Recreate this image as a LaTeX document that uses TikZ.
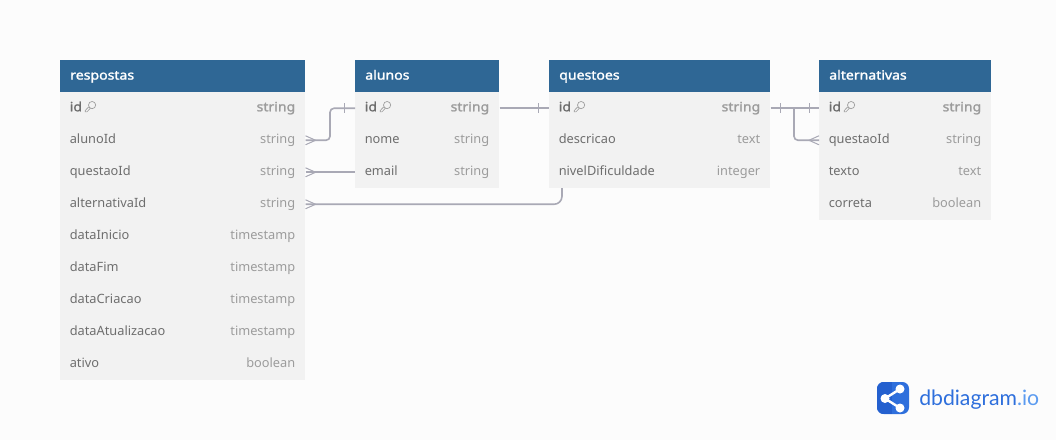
\documentclass[tikz,border=0pt]{standalone}
\usepackage{fontspec}
\setmainfont{Noto Sans}[BoldFont={Noto Sans},BoldFeatures={FakeBold=1.6,FakeStretch=1.1}]
\newfontfamily\logofont{Lato}
\usetikzlibrary{calc}
\definecolor{pagebg}{HTML}{FCFCFC}
\definecolor{headblue}{HTML}{2F6795}
\definecolor{rowgray}{HTML}{F2F2F2}
\definecolor{fieldtext}{HTML}{6E6E6E}
\definecolor{kindtext}{HTML}{9C9C9C}
\definecolor{relgray}{HTML}{A9A9B5}
\definecolor{logoblue}{HTML}{2E6FDC}
\definecolor{logodark}{HTML}{2460CF}
\definecolor{logolight}{HTML}{5B9BF0}
\tikzset{
  headbox/.style={anchor=north west,fill=headblue,text=white,font=\fontsize{9.6}{12}\selectfont\bfseries,
    inner xsep=7.5pt,inner ysep=0pt,minimum height=24pt,text height=7.5pt,text depth=2.5pt,text width=(#1-20)*0.75pt,align=left},
  rowbox/.style={anchor=north west,fill=rowgray,inner sep=0pt,minimum height=24pt,minimum width=#1*0.75pt},
  fieldname/.style={anchor=base west,text=fieldtext,inner sep=0pt,font=\fontsize{9.6}{12}\selectfont},
  kindname/.style={anchor=base east,text=kindtext,inner sep=0pt,font=\fontsize{9.6}{12}\selectfont},
  relline/.style={draw=relgray,line width=1.2pt},
  keyicon/.pic={
    \draw[draw=kindtext,line width=0.5pt] (4.6,-1.2) circle (3.6);
    \draw[draw=kindtext,line width=0.5pt] (1.2,0.6)--(-2.2,4.2)--(-2.2,5.6)--(-0.6,5.6)--(3,1.9);
  },
  crowfoot/.pic={
    \draw[draw=relgray,line width=0.75pt] (10,0)--(0,-4.5) (10,0)--(0,4.5);
  },
  onetick/.pic={
    \draw[draw=relgray,line width=0.75pt] (0,-5)--(0,5);
  },
}
\begin{document}
\begin{tikzpicture}[x=0.75pt,y=-0.75pt]
\fill[pagebg] (0,0) rectangle (1056,440);
\useasboundingbox (0,0) rectangle (1056,440);
%%%%% respostas %%%%%
\node[headbox=245] (respostas) at (60,60) {respostas};
\foreach \field/\kind [count=\r from 1] in {id/string,alunoId/string,questaoId/string,alternativaId/string,dataInicio/timestamp,dataFim/timestamp,dataCriacao/timestamp,dataAtualizacao/timestamp,ativo/boolean}{
\node[rowbox=245] (respostas-\field) at (60,{60+32*\r}) {};
\node[fieldname] (respostas-\field-name) at ($(respostas-\field.west)+(9.5,3)$) {\ifnum\r=1 \bfseries\fi\field};
\node[kindname] (respostas-\field-kind) at ($(respostas-\field.east)+(-10,3)$) {\ifnum\r=1 \bfseries\fi\kind};
}
%%%%% alunos %%%%%
\node[headbox=144] (alunos) at (355,60) {alunos};
\foreach \field/\kind [count=\r from 1] in {id/string,nome/string,email/string}{
\node[rowbox=144] (alunos-\field) at (355,{60+32*\r}) {};
\node[fieldname] (alunos-\field-name) at ($(alunos-\field.west)+(9.5,3)$) {\ifnum\r=1 \bfseries\fi\field};
\node[kindname] (alunos-\field-kind) at ($(alunos-\field.east)+(-10,3)$) {\ifnum\r=1 \bfseries\fi\kind};
}
%%%%% questoes %%%%%
\node[headbox=221] (questoes) at (549,60) {questoes};
\foreach \field/\kind [count=\r from 1] in {id/string,descricao/text,nivelDificuldade/integer}{
\node[rowbox=221] (questoes-\field) at (549,{60+32*\r}) {};
\node[fieldname] (questoes-\field-name) at ($(questoes-\field.west)+(9.5,3)$) {\ifnum\r=1 \bfseries\fi\field};
\node[kindname] (questoes-\field-kind) at ($(questoes-\field.east)+(-10,3)$) {\ifnum\r=1 \bfseries\fi\kind};
}
%%%%% alternativas %%%%%
\node[headbox=172] (alternativas) at (819,60) {alternativas};
\foreach \field/\kind [count=\r from 1] in {id/string,questaoId/string,texto/text,correta/boolean}{
\node[rowbox=172] (alternativas-\field) at (819,{60+32*\r}) {};
\node[fieldname] (alternativas-\field-name) at ($(alternativas-\field.west)+(9.5,3)$) {\ifnum\r=1 \bfseries\fi\field};
\node[kindname] (alternativas-\field-kind) at ($(alternativas-\field.east)+(-10,3)$) {\ifnum\r=1 \bfseries\fi\kind};
}
%%%%% Keys %%%%%
\foreach \tbl in {respostas,alunos,questoes,alternativas}{
\pic at ($(\tbl-id-name.base west)+(18,-5)$) {keyicon};
}
%%%%% Relations %%%%%
\coordinate (alunoBend) at (330,124);
\coordinate (dificuldadeFoot) at (562,188);
\coordinate (alternativaBend) at (794,124);
\draw[relline,rounded corners=3pt] (respostas-alunoId.east) -| (alunoBend) |- (alunos-id.west);
\draw[relline] (respostas-questaoId.east) -- (alunos-email.west);
\draw[relline,rounded corners=6pt] (respostas-alternativaId.east) -| (dificuldadeFoot);
\draw[relline] (alunos-id.east) -- (questoes-id.west);
\draw[relline] (questoes-id.east) -- (alternativas-id.west);
\draw[relline,rounded corners=3pt] (alternativas-id.west -| alternativaBend) |- (alternativas-questaoId.west);
\pic at (respostas-alunoId.east) {crowfoot};
\pic at (respostas-questaoId.east) {crowfoot};
\pic at (respostas-alternativaId.east) {crowfoot};
\pic[xscale=-1] at (alternativas-questaoId.west) {crowfoot};
\pic at ($(alunos-id.west)+(-11,0)$) {onetick};
\pic at ($(questoes-id.west)+(-11,0)$) {onetick};
\pic at ($(questoes-id.east)+(10,0)$) {onetick};
\pic at ($(alternativas-id.west)+(-10,0)$) {onetick};
%%%%% Logo %%%%%
\fill[logoblue,rounded corners=5pt] (877,382) rectangle (909,414);
\begin{scope}
\clip[rounded corners=5pt] (877,382) rectangle (909,414);
\fill[logodark] (877,382) rectangle (892,414);
\end{scope}
\draw[white,line width=1.8pt] (900,389) -- (885,398.5) -- (900,408);
\fill[white] (900,389) circle (4.5) (885,398.5) circle (4.5) (900,408) circle (4.5);
\node[anchor=base west,inner sep=0pt,font=\logofont\fontsize{15.9}{20}\selectfont] (logotext) at (919,405) {\textcolor{logoblue}{dbdiagram}\textcolor{logolight}{.io}};
\end{tikzpicture}
\end{document}
